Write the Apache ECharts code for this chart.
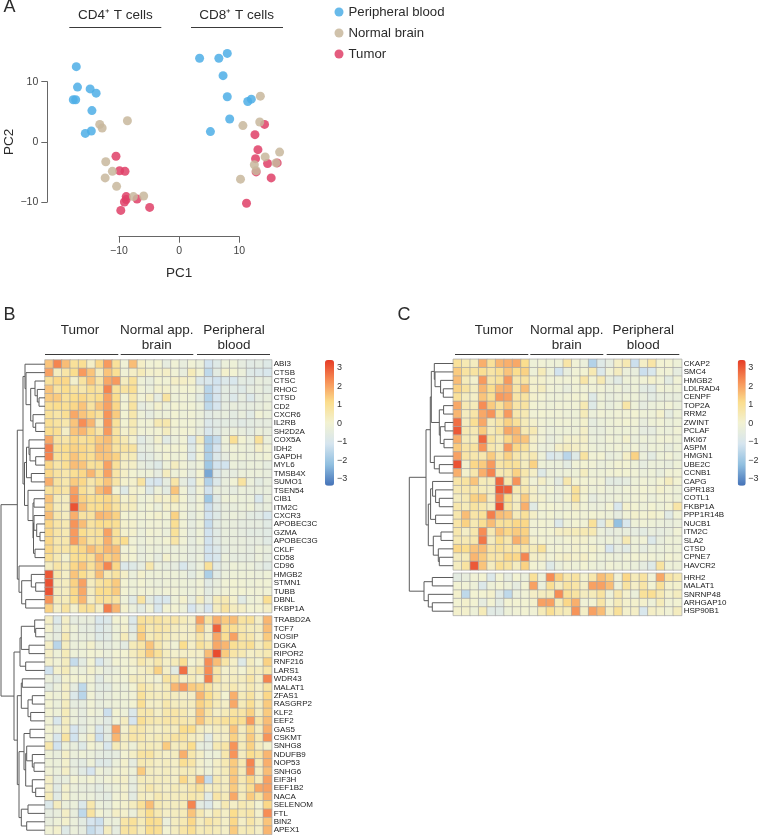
<!DOCTYPE html>
<html>
<head>
<meta charset="utf-8">
<title>T cell PCA and heatmaps</title>
<script src="https://cdn.jsdelivr.net/npm/echarts@6/dist/echarts.min.js"></script>
<style>
  html, body { margin: 0; padding: 0; background: #fff; }
  #chart { width: 759px; height: 835px; }
</style>
</head>
<body>
<div id="chart"></div>
<script>
// panel A: PC1, PC2
const bloodPoints = [
  [-17.1,12.5],[-16.9,9.1],[-14.8,8.8],[-13.8,8.1],[-17.6,7.0],[-17.2,7.0],[-14.5,5.2],[-14.6,1.8],[-15.6,1.4],
  [3.4,13.9],[6.6,13.9],[8.0,14.7],[7.3,11.0],[8.0,7.5],[11.4,6.7],[12.0,7.1],[8.4,3.8],[5.2,1.7]
];
const brainPoints = [
  [-13.2,2.9],[-12.8,2.3],[-8.6,3.5],[-12.2,-3.3],[-11.1,-4.9],[-12.3,-6.0],[-10.4,-7.4],[-7.6,-9.1],[-5.9,-9.0],
  [13.5,7.6],[10.6,2.7],[13.4,3.3],[16.7,-1.7],[14.3,-2.5],[12.5,-3.8],[16.1,-3.5],[12.8,-4.8],[10.2,-6.2]
];
const tumorPoints = [
  [-10.5,-2.4],[-9.9,-4.8],[-9.0,-4.9],[-8.8,-9.1],[-8.8,-9.6],[-9.1,-10.0],[-7.0,-9.5],[-9.7,-11.4],[-4.9,-10.9],
  [14.2,2.9],[12.6,1.2],[13.1,-1.3],[12.7,-2.8],[14.7,-3.6],[16.3,-3.5],[12.8,-5.0],[15.3,-6.0],[11.2,-10.2]
];

const samples = ['T1','T2','T3','T4','T5','T6','T7','T8','T9','N1','N2','N3','N4','N5','N6','N7','N8','N9','P1','P2','P3','P4','P5','P6','P7','P8','P9'];

// panel B, upper block
const bTopGenes = ['ABI3','CTSB','CTSC','RHOC','CTSD','CD2','CXCR6','IL2RB','SH2D2A','COX5A','IDH2','GAPDH','MYL6','TMSB4X','SUMO1','TSEN54','CIB1','ITM2C','CXCR3','APOBEC3C','GZMA','APOBEC3G','CKLF','CD58','CD96','HMGB2','STMN1','TUBB','DBNL','FKBP1A'];
const bTopValues = [
  [1.5,2.4,1.6,0.9,1.0,0.2,1.2,2.1,0.9, -0.1,1.6,0.2,-0.1,0,-0.5,-0.1,-0.4,-0.1, -0.3,-1.2,-0.8,-0.3,-0.2,-0.5,-0.7,-0.6,-0.8],
  [2.0,0.3,0.7,1.1,2.1,1.5,0.3,1.5,1.0, -0.1,0.2,0.4,0.1,0.1,0.2,-0.1,-0.4,0.4, 0,-1.5,-0.6,0.1,0,-0.3,-0.8,-0.9,-1.0],
  [0.9,1.2,1.2,0.1,0.8,1.5,0.7,1.9,2.1, 0.3,0.9,-0.2,-0.4,0,-0.1,0.2,0.2,0.1, -0.9,-1.0,-1.2,-0.9,-1.0,-0.6,-0.7,-0.4,-0.5],
  [1.5,0.8,1.1,0.8,0.6,1.0,0.8,2.4,0.9, 0.8,1.0,-0.1,-0.3,0.1,0.1,-0.1,0,0, -0.3,-1.6,-1.1,-0.6,-0.7,-0.8,-0.5,-0.4,-0.6],
  [1.4,1.4,0.9,1.1,1.2,0.9,1.1,2.0,1.1, -0.1,0.6,-0.1,0.2,-0.5,0.8,-0.2,-0.1,-0.2, -0.6,-1.7,-1.1,-0.6,-0.9,-0.5,-0.9,-0.5,-0.4],
  [1.0,1.1,1.0,1.2,1.5,0.8,1.5,2.0,1.2, 0,0.8,-0.5,-0.3,0.1,-0.2,0,-0.1,-0.1, -0.3,-1.5,-1.1,-0.5,-0.4,-0.5,-0.5,-0.4,-0.3],
  [0.9,0.7,1.0,1.9,1.5,1.2,0.9,2.2,1.4, 0,0.6,-0.2,-0.5,-0.2,-0.2,0,-0.2,-0.1, -0.3,-0.7,-0.5,-0.4,-0.6,-0.4,-0.7,-0.1,-0.3],
  [1.0,0.8,0.6,1.5,2.3,1.7,0.3,2.2,0.9, 0,0.5,-0.1,-0.1,0.5,0.6,0,-0.1,-0.1, -0.3,-0.9,-0.7,-0.6,-0.6,-0.7,-0.6,-0.5,-0.5],
  [1.1,1.0,0.2,1.5,1.7,1.2,0.7,2.1,0.8, 0.1,0.4,-0.1,-0.1,0,0.3,-0.1,0,-0.1, -0.4,-1.0,-0.7,-0.4,-0.3,-0.4,-0.6,-0.3,-0.4],
  [1.9,0.8,0.7,1.2,0.9,1.1,1.4,1.6,0.9, 0.5,0.1,-0.7,-0.4,0.1,-0.7,-0.3,-0.1,-1.0, 0.3,-1.8,-1.4,-0.2,1.0,0,-0.3,0.9,-0.3],
  [2.5,1.0,1.1,1.3,1.2,1.0,1.6,1.5,0.8, 0.8,0.8,-0.5,-0.4,-0.1,0,0,0,-0.8, 0,-1.8,-1.1,-0.3,-0.1,-0.2,-0.3,0.2,-0.1],
  [2.4,0.9,1.0,1.5,1.2,1.0,1.5,1.5,1.3, 0.4,0.4,-0.7,-0.6,-0.3,0,-0.2,-0.1,-0.9, 0,-1.8,-0.9,-0.5,-0.2,-0.2,-0.3,-0.2,-0.1],
  [1.2,0.7,1.0,1.6,1.5,0.9,1.0,2.0,0.9, 0.2,0.2,-0.4,-0.6,-0.8,-0.2,0.3,-0.1,-0.4, -0.2,-2.0,-1.2,-1.2,-0.3,-0.4,-0.3,-0.3,-0.5],
  [1.2,0.8,0.6,1.0,1.2,1.7,1.0,2.0,0.7, 0.2,0,-0.2,-0.2,-0.5,0.3,-0.2,-0.1,-0.5, 0,-2.6,-0.9,-0.5,-0.5,-0.3,-0.3,-0.3,-0.4],
  [1.8,0.8,0.6,1.4,1.2,0.6,1.0,1.5,0.7, 0.1,0.1,0.8,-1.0,-1.1,-0.5,0.7,-0.5,-0.9, 0.1,-1.7,-0.9,-0.4,-0.1,0.8,-0.3,-0.6,-0.4],
  [0.9,0.9,0.7,2.0,1.0,0.6,1.6,2.0,0, -0.8,0.1,0,-0.8,-0.2,-0.6,1.5,-0.1,-0.7, -0.1,-1.2,-0.4,-0.4,-0.5,-0.3,-0.4,-0.4,-0.4],
  [1.5,0.4,0.3,2.2,1.3,1.0,1.1,1.2,0.8, 0.1,0.3,-0.2,-0.1,0.2,0.1,0.7,0,-0.5, -0.1,-2.0,-0.7,-0.2,-0.2,-0.3,-0.3,-1.0,-0.4],
  [1.3,0.4,0.3,3.1,1.6,1.0,1.1,1.3,0.8, 0.3,0.3,-0.2,0,-0.3,0.1,0.1,-0.1,-0.4, -0.1,-1.3,-0.7,-0.4,-0.4,-0.3,-0.2,-0.5,-0.4],
  [1.6,0.6,0.3,1.8,0.8,0.8,1.7,1.6,1.3, 0,0,-0.1,0,0.1,-0.1,1.3,-0.1,-0.5, -0.2,-1.2,-0.8,-0.4,-0.3,-0.4,-0.6,-0.7,-1.0],
  [1.2,0.7,0.5,2.2,1.6,0.8,1.1,1.1,1.0, 0.1,0.1,-0.2,-0.1,-0.1,-0.2,1.0,-0.1,-0.5, -0.2,-1.4,-0.6,-0.4,-0.4,-0.5,-0.5,-0.5,-0.7],
  [1.2,0.7,0.5,2.1,1.1,0.8,0.9,2.0,0.9, 0.1,0.1,-0.3,0,-0.1,-0.3,0.9,-0.1,-0.5, -0.2,-1.2,-0.7,-0.4,-0.4,-0.5,-0.6,-0.6,-0.7],
  [1.2,0.6,0.6,2.1,1.4,0.8,0.9,1.8,0.9, 1.1,-0.1,-0.3,-0.1,-0.2,0,0.7,-0.1,-0.5, -0.2,-1.2,-0.7,-0.4,-0.4,-0.4,-0.5,-0.5,-0.7],
  [1.2,0.7,0.7,1.1,1.2,1.6,1.3,1.7,1.6, -0.1,0,-0.4,-0.2,-0.3,-0.3,-0.3,-0.3,-0.5, -0.4,-1.2,-0.9,-0.5,-0.4,-0.4,-0.5,-0.3,-0.4],
  [1.0,0.5,0.1,1.0,1.1,0.9,1.7,1.3,1.5, 0.1,0,-0.4,-0.2,-0.5,0.1,-0.2,-0.3,-0.5, -0.3,-1.2,-1.0,-0.3,-0.5,-0.5,-0.5,-0.3,-0.5],
  [0.3,0.7,0.4,1.2,1.5,0.9,1.5,2.4,1.2, -0.9,-0.8,-0.5,0.6,-0.3,-0.4,-0.5,-1.0,-0.6, -0.3,0.9,-0.7,-0.4,-0.2,-0.3,-0.3,-0.5,-0.7],
  [3.0,0.6,0.2,1.5,1.1,0.6,1.6,0.5,0.8, 0.2,-0.3,0.1,-0.2,-0.2,-0.2,-0.2,-0.3,-0.6, -0.2,-1.8,-0.7,-0.3,-0.2,-0.2,-0.2,-0.3,-0.2],
  [3.1,0.3,0.3,1.3,2.0,0.3,0.8,1.0,1.4, 0,-0.2,0,-0.2,-0.3,-0.2,-0.2,-0.2,-0.3, -0.1,-0.7,-0.4,-0.1,0,-0.1,-0.2,-0.1,-0.1],
  [3.1,0.3,0.3,1.2,1.9,0.3,1.1,1.1,1.4, 0,-0.2,-0.1,-0.1,-0.2,-0.1,-0.1,-0.2,-0.3, -0.1,-0.6,-0.3,-0.1,0,0,-0.1,-0.1,-0.1],
  [2.2,0.4,0.4,1.1,1.7,0.2,0.9,0.9,0.8, -0.2,-0.7,0.8,-0.6,-1.0,-1.0,-0.2,0.1,-0.5, 0.3,-0.5,0.4,0.5,0.1,-0.7,-0.2,-0.1,1.0],
  [1.3,0.2,0.8,0.1,0.9,0.9,0.2,2.5,1.7, 0.1,-0.3,-0.6,-0.1,-1.0,0,0,-0.2,-1.1, -0.5,-1.1,0.3,0.8,0.3,0.2,0,0,0.2]
];

// panel B, lower block
const bBottomGenes = ['TRABD2A','TCF7','NOSIP','DGKA','RIPOR2','RNF216','LARS1','WDR43','MALAT1','ZFAS1','RASGRP2','KLF2','EEF2','GAS5','CSKMT','SNHG8','NDUFB9','NOP53','SNHG6','EIF3H','EEF1B2','NACA','SELENOM','FTL','BIN2','APEX1'];
const bBottomValues = [
  [0.2,-0.9,0.2,-0.5,-0.4,-0.4,-1.0,-0.9,0, 0,-0.9,0.9,0.8,0.8,0.6,0.7,0.4,0.2, 2.0,0.8,1.8,1.4,1.6,0.8,0.9,0.2,1.7],
  [0.1,-0.6,0.2,-0.2,-0.5,-0.5,-0.9,-0.7,-0.2, 0.1,-0.7,1.2,0.5,0.7,0.6,0.3,0.2,0.2, 1.4,0.2,2.9,1.0,1.0,0.6,0.4,0.3,1.6],
  [-0.3,-0.5,0.5,-0.3,-0.4,-0.4,-0.8,-0.7,-0.2, 0.4,-0.4,1.4,0.4,0.6,0.4,0.2,0.2,0.2, 0.7,0.2,1.9,1.0,2.0,0.7,0.6,0.2,1.4],
  [0.2,-1.6,0.3,-0.3,-0.2,0.1,-0.4,-0.5,-0.3, -0.6,0.4,0.7,1.5,0.6,0.2,-0.1,1.1,0.2, 0.9,0.6,1.9,1.7,1.0,0.8,1.0,0.3,0.9],
  [0.2,-0.2,0.4,-0.2,-0.2,0,-0.1,-0.3,0, 0,0.3,0.7,1.4,0.9,0.3,0.1,0.2,0.2, 0.2,1.6,3.2,1.4,0.7,0.5,0.2,0.3,0.5],
  [0.1,-0.1,0.3,-1.4,-0.6,0,-1.0,-0.5,0, -0.1,0.1,0.6,0.3,0.6,0.2,0.4,1.0,0, 0.2,2.3,1.6,0.7,0.2,-0.8,0.3,0,1.3],
  [-1.2,0.1,0.4,-0.2,-0.3,0.1,-0.2,-0.5,-0.3, 0,0,0.2,0.4,1.3,0.2,-0.6,2.7,0.3, 0.7,2.3,0.7,0.1,0.2,0,0.4,0.3,0.7],
  [-0.3,-0.6,0.1,0,0,-0.1,-0.7,-0.3,-0.1, -0.1,0.3,0.3,0.1,-0.1,0.8,0.7,0.2,0.4, 0.1,2.5,0.7,0.2,0.3,0.3,0.7,0.2,2.4],
  [-0.6,-0.3,0.2,-0.5,-1.5,-0.2,-0.6,-0.6,-0.2, -0.3,0,0.7,0.4,0.2,0.4,1.7,2.1,1.4, 1.3,0.8,0.3,0.3,0.5,0.2,0.5,0.2,0.8],
  [0,-0.2,0.2,-0.9,-1.6,-0.1,-0.5,-0.4,-0.2, -0.2,-0.1,0.9,0.4,0.3,0.4,0.3,0.2,0.2, 1.7,1.1,0.5,0,1.8,0.4,0.8,0.2,1.2],
  [0,-0.3,0.3,-0.5,-0.5,-0.1,-0.4,-0.3,-0.2, -0.2,0,1.0,0.2,0.2,0.6,0.3,0.3,0.3, 1.3,0.9,0.4,0.2,1.9,0.4,1.0,0.3,1.4],
  [0,-0.2,0.4,-0.3,-0.5,-0.1,-0.3,-1.3,0, -0.2,-0.9,0.6,0.6,0.2,0.6,0.7,0.5,0.2, 1.5,0.7,0.2,0.4,0.8,0.7,1.3,0.3,1.4],
  [-0.1,-1.0,0.3,-0.3,-0.5,-0.3,-0.4,-0.7,-0.1, 0.3,-1.1,1.0,0.6,0.5,0.7,0.7,0.6,0.5, 1.5,0.7,0.7,0.9,1.1,1.0,2.1,0.7,1.6],
  [0,-0.3,0.3,-1.1,-0.6,-0.2,-1.0,-0.6,2.0, 0.1,0.6,0.6,0.3,0.2,0.4,0.3,1.1,1.1, 0.3,0.1,0.3,0.3,1.5,0.3,1.2,0.3,1.8],
  [-0.1,-1.0,0.8,-1.2,-0.3,0.2,-1.3,-0.6,1.7, 0.3,0.7,0.6,0.3,0.4,0.5,0.8,0.8,0.3, 0.2,-0.7,0.2,0.2,1.3,0.4,1.4,0.5,2.2],
  [0.6,-1.2,-0.2,-0.4,-0.8,0,-0.3,-1.0,0.4, 0.2,-0.2,0.4,0.4,0.3,1.4,0.3,0.5,1.1, -0.4,-0.5,0.5,0.7,2.2,0.4,1.3,0.3,0.1],
  [-0.2,-0.4,0.2,-0.3,-0.2,-0.3,-0.5,-0.6,-0.5, 0,0.2,0.8,0.8,0.3,0.2,0.3,1.8,0.6, 0.2,-0.3,-0.2,0.6,2.2,0.3,1.1,0.8,1.7],
  [-0.2,-0.3,0.1,-0.5,-0.6,-0.2,-0.8,-0.8,-0.3, 0.1,-0.5,0.5,0.4,0.2,0.3,0.2,1.0,0.7, 0.1,-0.2,0.2,0.5,1.4,0.5,2.4,0.4,1.8],
  [-0.1,-0.3,0.2,-0.4,-0.7,-1.1,-0.2,-0.4,-0.1, 0.1,-0.2,1.4,0.3,0.2,0.3,0.2,0.4,0.4, 0.1,-0.2,0.2,0.4,1.4,0.4,2.2,0.3,1.6],
  [0.2,-0.5,-0.4,0,-0.2,0,-0.3,-0.1,0.1, 0.2,-0.4,0.4,0.3,0.3,0.3,0.2,1.2,0.4, 1.8,-1.4,0.5,0.3,1.5,0.5,1.2,0.4,2.0],
  [0.2,-0.7,0.1,-0.3,-0.4,-0.4,-0.6,-0.4,-0.2, 0.1,-0.5,0.3,0.6,0.3,0.2,0.4,0.3,0.6, 0.9,0.2,0.4,0.3,1.4,0.4,1.0,1.9,2.0],
  [0.4,-0.7,0.1,-0.3,-0.3,-0.3,-0.5,-0.6,-0.1, 0.1,-0.6,0.3,0.2,0.5,0.3,0.3,0.4,0.6, 0.5,-0.7,0.7,0.4,1.9,0.4,1.4,0.8,1.8],
  [-0.9,0.3,-0.3,-0.3,-0.9,0.6,-0.3,-0.4,0, 0.1,0.3,0.9,1.6,0.5,0.3,0.3,0.4,2.4, -0.6,-0.9,-0.1,0.5,0.2,0.5,0.4,0,1.2],
  [-0.5,-0.4,0.2,-0.4,-1.5,0.8,0,-0.3,0.2, 0.1,-0.3,0.5,1.1,0.5,0.2,0.3,0.4,1.5, 0.5,0.1,0.5,0.2,1.1,0.5,0.7,0.1,2.3],
  [-0.4,-0.2,0.1,-0.3,-0.6,-1.1,-1.3,-0.3,-0.3, 0.7,0.9,0.4,1.1,1.0,-0.3,0.3,0.5,1.2, 0.3,0.7,0.5,0.2,1.2,0.2,0.7,0.3,1.5],
  [-0.1,0.1,-0.8,-0.3,-0.5,-1.4,-1.1,0.3,-0.5, 0.8,0.8,0.3,1.1,1.0,0,0.3,0.7,1.0, 0.4,0.5,0.4,0.2,1.4,0.4,0.5,0.2,1.7]
];

// panel C, upper block
const cTopGenes = ['CKAP2','SMC4','HMGB2','LDLRAD4','CENPF','TOP2A','RRM2','ZWINT','PCLAF','MKI67','ASPM','HMGN1','UBE2C','CCNB1','CAPG','GPR183','COTL1','FKBP1A','PPP1R14B','NUCB1','ITM2C','SLA2','CTSD','CPNE7','HAVCR2'];
const cTopValues = [
  [0.9,0.5,0.3,1.8,0.9,1.7,1.8,1.9,1.1, -0.2,-0.1,-0.2,-0.2,0.7,-0.1,-0.3,-1.7,-0.8, -0.5,0.2,0.5,-1.3,0.2,0.7,0,0,-0.2],
  [1.4,0.8,0.8,1.0,0.7,1.0,1.5,1.1,1.3, -0.2,0.4,-0.2,-1.2,-0.4,-0.1,0,0.5,-0.9, -0.1,0.3,-0.3,-0.4,-1.3,-1.0,-0.1,-0.1,-0.5],
  [1.6,0.4,0.1,2.1,0.7,0.9,2.1,0.6,0.8, 0.1,0.1,-0.1,-0.1,-0.1,0,0.7,0,0.5, -0.4,-0.7,-0.2,-0.2,-0.1,0.1,-0.1,-0.6,-0.1],
  [1.3,0.8,0.3,1.7,1.1,1.7,1.8,0.7,1.6, 0.1,0.3,-0.1,-0.2,-0.4,-0.1,-0.1,-0.1,-0.1, -0.3,-0.2,-0.4,-0.2,-0.6,-0.7,-0.1,-0.2,-0.2],
  [0.9,0.3,0.2,1.5,1.0,2.1,2.0,0.7,0.8, 0.1,0,-0.2,-0.2,-0.1,0,0,-0.8,-0.2, -0.4,-0.3,-0.2,-0.2,-0.4,-0.6,-0.4,-0.4,-0.4],
  [1.9,0.5,0.4,2.3,1.4,0.9,1.5,0.7,0.8, 0,-0.1,-0.2,-0.1,-0.1,-0.1,0.5,-0.8,-0.2, -0.4,-0.2,0.7,-0.2,-0.5,-0.3,-0.2,-0.1,-0.3],
  [1.7,0.3,0.7,1.9,2.2,0.9,2.1,0.6,0.5, -0.1,0,-0.1,-0.1,-0.2,-0.2,0.4,-0.3,-0.1, -0.2,-0.1,-0.1,0,-0.2,-0.2,0.1,-0.5,-0.2],
  [2.7,0.3,1.0,1.9,0.4,0.7,1.3,0.9,0.4, 0.1,-0.1,-0.2,-0.1,-0.1,-0.2,0.1,-0.5,-0.3, -0.2,-0.1,0,-0.1,-0.4,-0.2,-0.1,-0.3,-0.2],
  [3.0,0.5,0.5,1.4,0.4,0.8,1.9,1.7,0.5, 0.5,-0.1,-0.3,-0.2,-0.2,-0.2,0.2,-0.4,-0.4, -0.2,-0.2,-0.2,-0.2,-0.5,-0.5,-0.2,-0.3,-0.1],
  [1.8,0.4,0.4,2.8,0.8,0.4,1.2,1.6,1.5, 0.2,-0.1,-0.4,-0.2,0.1,0.1,0.2,-0.3,-0.3, -0.1,-0.2,0.1,-0.3,-0.2,-0.3,-0.1,-0.1,-0.2],
  [1.4,0.7,0.8,2.2,0.6,0.4,2.1,1.2,0.9, 0.1,-0.3,-0.3,0.2,0.3,0.2,0.1,-0.2,-0.3, -0.2,-0.1,-0.2,-0.1,-0.4,-0.2,-0.2,-0.4,-0.2],
  [2.0,0.7,0.6,0.6,1.4,0.6,1.3,0.6,0.4, 0.5,-0.2,-1.0,-0.8,-1.6,-0.8,0.8,-0.1,0, -0.4,-0.3,0.2,1.3,-0.3,-0.6,-0.2,-0.1,-0.3],
  [3.1,0.1,1.2,1.4,2.1,0.7,0.9,0.9,0.3, 1.3,-0.2,-0.3,-0.3,-0.6,-0.1,0,-0.1,-0.3, -0.2,0,0,-0.2,-0.5,-0.3,-0.3,-0.4,-0.2],
  [1.8,0.1,0.6,1.8,2.4,0.5,0.6,1.3,0.6, 0.2,-0.8,-0.3,-0.3,-0.2,-0.2,0.3,-0.2,-0.2, -0.1,0,0,-0.1,-0.3,-0.2,-0.4,-0.1,-0.1],
  [0.7,0.8,1.5,0.4,0.4,2.8,0.6,2.2,0.4, -0.1,0.2,-0.2,-0.6,0.6,0,0,-0.1,-0.1, -0.6,-0.6,-0.5,-0.2,-0.1,-0.2,0,0.3,0],
  [0.5,0.6,0.7,0.4,0.3,3.0,2.9,0.5,0.6, 0.2,-0.2,0,-0.3,0,0.9,0.1,-0.2,-0.1, -0.3,-0.3,-0.1,-0.1,0,-0.1,0.1,-0.1,-0.2],
  [0.3,0.5,1.3,1.4,0.3,2.5,1.1,0.3,1.4, 0.2,0.1,-0.2,-0.3,0.1,0.9,0,-0.5,-0.3, -0.3,-0.2,-0.2,-0.1,-0.1,-0.3,-0.1,-0.1,-0.2],
  [0.6,0.4,0.8,0.6,0.3,3.1,0.8,0.3,1.8, -0.7,0,0,-0.1,-0.2,0.2,-0.1,-0.3,-0.3, 0,-1.0,0.1,0,-0.2,0,-0.2,0,0.7],
  [0.6,1.6,0.7,0.9,2.5,1.6,1.5,0.4,0.9, 0.2,-0.1,0,-0.2,0,0,-0.1,0,-0.1, -0.2,-0.5,-0.1,0.1,0,0.1,0,-0.7,-0.1],
  [0.7,1.3,0.5,1.0,1.6,0.9,0.9,1.2,1.2, -0.1,0,-0.1,-0.9,-0.2,0,-0.1,0.9,-0.8, 0.3,-2.2,-1.0,-0.2,-0.1,-0.2,-0.3,-0.4,-0.3],
  [0.6,0.2,0.6,2.3,0.5,1.5,1.2,1.4,1.3, -0.1,0,0,0.2,0.3,0.4,0.5,0.5,-0.3, -0.5,-0.4,-0.4,-0.5,-0.6,-0.4,-0.5,-0.4,-0.1],
  [0.5,0.5,0.6,2.6,0.3,1.1,0.6,1.8,1.4, 0.1,0,-0.1,-0.2,0,0.1,0.1,-0.1,-0.3, -0.2,-0.4,0.5,-0.2,-0.1,-0.9,-0.4,-0.2,-0.2],
  [1.2,1.1,1.5,1.6,0.7,0.9,0.7,0.7,0.7, 0.4,0.9,-0.1,0,-0.1,0.1,0,0.1,-0.1, -1.1,-0.5,-0.7,-0.2,-0.5,-0.3,-0.3,-0.2,-0.2],
  [0.3,0.4,1.7,1.4,0.7,0.7,1.2,1.2,2.4, 0.2,0.2,-0.1,0.1,0.2,0.1,0.2,0,-0.2, -0.2,-0.3,-0.1,0,-0.1,-0.1,-0.2,0,-0.1],
  [0.3,0.8,3.0,1.5,0.3,1.0,0.8,0.3,1.3, 0,-0.1,-0.8,-0.3,-0.1,-0.2,0,-0.2,-0.3, -0.1,-0.2,-0.2,-0.3,-0.5,-0.8,0.8,-0.2,-0.2]
];

// panel C, lower block
const cBottomGenes = ['HRH2','MALAT1','SNRNP48','ARHGAP10','HSP90B1'];
const cBottomValues = [
  [-0.6,-0.4,-0.1,0,-0.9,0,-0.5,0,-0.3, 0.9,-0.2,2.3,1.3,0.6,0.8,0.1,0.6,1.6, 1.3,-0.1,1.2,0.4,0.8,-0.1,1.9,0.7,0.5],
  [0,-0.1,-0.2,-0.9,-0.2,0,-0.2,-0.5,0, 2.0,-0.3,1.0,0.3,0.8,0.7,0.2,2.0,2.0, 1.6,-0.2,0.8,0.2,0.7,0,0.9,0.1,0.1],
  [0.1,-1.5,0,0,0.1,-0.7,-1.5,-0.3,-0.1, 0.2,0.3,0.4,2.3,0.9,0.8,0.3,0.4,0.8, -0.2,0.6,0.1,-0.3,0.9,1.0,0.5,0.1,0.3],
  [0,0.1,0,-0.5,0,-0.6,0,0,0, 0.1,2.0,2.0,0.4,1.2,1.8,-0.1,0,0.7, 0,0.4,0.1,0.1,0.1,-0.2,0.4,-0.1,0],
  [0.1,0.1,-0.2,0.4,-0.7,-0.7,-0.2,-0.1,0, -0.1,0.4,1.0,0.5,0.4,2.2,0.2,2.0,1.6, 0.2,0.9,0.1,0.2,-1.0,0.2,0.1,-0.1,0.3]
];

// row dendrograms as [height, upper, lower], leaves are gene names
const bTree = [44,
  [27.7,
    [22,
      [20,'ABI3',[19,'CTSB',[14.3,[10,'CTSC',[7.7,'RHOC',[6,'CTSD','CD2']]],[12,'CXCR6',[9.3,'IL2RB','SH2D2A']]]]],
      [20.5,
        [18.5,[16,'COX5A',[15,'IDH2',[9.3,'GAPDH','MYL6']]],[13.7,'TMSB4X','SUMO1']],
        [17,'TSEN54',[12,[11,'CIB1','ITM2C'],[11.5,[11,'CXCR3',[8.3,'APOBEC3C',[5,'GZMA','APOBEC3G']]],[10,'CKLF','CD58']]]]
      ]
    ],
    [26,'CD96',[23.3,[13.7,'HMGB2',[9.3,'STMN1','TUBB']],[19.3,'DBNL','FKBP1A']]]
  ],
  [31,
    [25,[23.7,[10.3,'TRABD2A',[9.3,'TCF7','NOSIP']],[16,'DGKA','RIPOR2']],[19.3,'RNF216','LARS1']],
    [27.7,
      [23.7,
        [22.7,'WDR43','MALAT1'],
        [17,[12.7,'ZFAS1','RASGRP2'],[14.3,'KLF2','EEF2']]
      ],
      [26,
        [21,[15,'GAS5','CSKMT'],[19.3,[18.3,'SNHG8',[12.7,'NDUFB9',[11,'NOP53','SNHG6']]],[12.7,'EIF3H',[9.3,'EEF1B2','NACA']]]],
        [23.7,[17,'SELENOM','FTL'],[18.3,'BIN2','APEX1']]
      ]
    ]
  ]
];
const cTree = [44,
  [27.3,
    [23,
      [22,
        [19,'CKAP2',[18.3,'SMC4',[12.7,'HMGB2',[10,'LDLRAD4','CENPF']]]],
        [14,[9.7,'TOP2A','RRM2'],[13,[8.3,'ZWINT','PCLAF'],[9.3,'MKI67','ASPM']]]
      ],
      [19,'HMGN1',[14,'UBE2C','CCNB1']]
    ],
    [25,
      [22.7,[20.7,'CAPG',[17.7,'GPR183',[14,'COTL1','FKBP1A']]],[17.7,'PPP1R14B','NUCB1']],
      [20,[12.3,'ITM2C','SLA2'],[15,'CTSD',[14,'CPNE7','HAVCR2']]]
    ]
  ],
  [29.3,[21,'HRH2','MALAT1'],[25,'SNRNP48',[21,'ARHGAP10','HSP90B1']]]
];

const colorStops = ['#4472b8','#90bfe0','#d6e5ef','#f2f2d2','#fbdd8c','#f78f56','#e63c26'];
const fontFamily = '"Liberation Sans", Arial, sans-serif';

const toCells = rows => rows.flatMap((row, r) => row.map((v, c) => [c, r, v]));

// one polyline per merge, y is the row number with a small gap between the blocks
function treeSegments(tree, topGenes, bottomGenes, gap) {
  const segments = [];
  const walk = node => {
    if (typeof node === 'string') {
      const i = topGenes.indexOf(node);
      return { h: 0, y: i >= 0 ? i : topGenes.length + gap + bottomGenes.indexOf(node) };
    }
    const a = walk(node[1]);
    const b = walk(node[2]);
    segments.push({ coords: [[a.h, a.y], [node[0], a.y], [node[0], b.y], [b.h, b.y]] });
    return { h: node[0], y: (a.y + b.y) / 2 };
  };
  walk(tree);
  return segments;
}

function text(str, x, y, size) {
  return {
    type: 'text', x: x, y: y, silent: true,
    style: { text: str, fontSize: size, fontFamily: fontFamily, fill: '#2b2b2b', align: 'center', verticalAlign: 'middle' }
  };
}
function rule(x1, x2, y) {
  return { type: 'line', silent: true, shape: { x1: x1, y1: y, x2: x2, y2: y }, style: { stroke: '#3a3a3a', lineWidth: 1 } };
}

const graphicItems = [
  text('A', 9.5, 7, 18), text('B', 9.5, 315, 18), text('C', 404, 315, 18),
  text('CD4\u207a T cells', 115.3, 15.7, 13.5), text('CD8\u207a T cells', 236.7, 15.7, 13.5),
  rule(69.3, 161.3, 27.5), rule(191, 283, 27.5),
  text('Tumor', 80, 330, 13.5), text('Normal app.', 156.7, 330, 13.5), text('brain', 156.7, 345.7, 13.5),
  text('Peripheral', 234, 330, 13.5), text('blood', 234, 345.7, 13.5),
  rule(45, 118.3, 354.5), rule(120.7, 193.3, 354.5), rule(197, 270, 354.5),
  text('Tumor', 494, 330, 13.5), text('Normal app.', 566.7, 330, 13.5), text('brain', 566.7, 345.7, 13.5),
  text('Peripheral', 643.3, 330, 13.5), text('blood', 643.3, 345.7, 13.5),
  rule(455, 528.3, 354.5), rule(530.3, 603.3, 354.5), rule(606.7, 679.3, 354.5)
];

const scatterAxis = {
  type: 'value', min: -10, max: 10, interval: 10, splitLine: { show: false },
  axisLine: { show: true, onZero: false, lineStyle: { color: '#666', width: 1 } },
  axisTick: { show: true, length: 6, lineStyle: { color: '#666', width: 1 } },
  axisLabel: { fontSize: 10.5, fontFamily: fontFamily, color: '#444', margin: 9, formatter: v => String(v).replace('-', '\u2212') },
  nameLocation: 'middle', nameTextStyle: { fontSize: 13.5, fontFamily: fontFamily, color: '#2b2b2b' }
};

const grids = [
  { left: 119, top: 81.7, width: 120.3, height: 120.3 },
  { left: 45, top: 360, width: 226.7, height: 252.6 },
  { left: 45, top: 616, width: 226.7, height: 218.4 },
  { left: 453.3, top: 359.3, width: 228.4, height: 210.6 },
  { left: 453.3, top: 573.3, width: 228.4, height: 42.1 },
  { left: 0, top: 360, width: 45, height: 474.4 },
  { left: 408.3, top: 359.3, width: 45, height: 256.1 },
  { left: 333, top: 349.15, width: 1, height: 148.4 },
  { left: 745, top: 349.15, width: 1, height: 148.4 }
];

const heatX = gridIndex => ({ type: 'category', gridIndex: gridIndex, data: samples, show: false });
const heatY = (gridIndex, genes) => ({
  type: 'category', gridIndex: gridIndex, data: genes, inverse: true, position: 'right',
  axisLine: { show: false }, axisTick: { show: false }, splitLine: { show: false },
  axisLabel: { interval: 0, fontSize: 8, fontFamily: fontFamily, color: '#222', margin: 2 }
});
const treeX = gridIndex => ({ type: 'value', gridIndex: gridIndex, min: 0, max: 45, inverse: true, show: false });
const treeY = (gridIndex, max) => ({ type: 'value', gridIndex: gridIndex, min: -0.5, max: max, inverse: true, show: false });
const barX = gridIndex => ({ type: 'value', gridIndex: gridIndex, show: false });
const barY = gridIndex => ({
  type: 'value', gridIndex: gridIndex, position: 'right', min: -4, max: 4, interval: 1,
  axisLine: { show: false }, axisTick: { show: false }, splitLine: { show: false },
  axisLabel: { fontSize: 9, fontFamily: fontFamily, color: '#333', margin: 3,
    formatter: v => Math.abs(v) === 4 ? '' : String(v).replace('-', '\u2212') }
});

const pointSeries = (name, data, color, z) => ({
  name: name, type: 'scatter', data: data, symbolSize: 9, clip: false, z: z,
  itemStyle: { color: color, opacity: 0.85 }
});
const heatSeries = (gridIndex, rows) => ({
  type: 'heatmap', xAxisIndex: gridIndex, yAxisIndex: gridIndex, data: toCells(rows),
  itemStyle: { borderColor: '#a6a6a6', borderWidth: 0.7 }
});
const treeSeries = (gridIndex, data) => ({
  type: 'lines', coordinateSystem: 'cartesian2d', polyline: true, xAxisIndex: gridIndex, yAxisIndex: gridIndex,
  data: data, symbol: 'none', silent: true, lineStyle: { color: '#5c5c5c', width: 1, opacity: 1 }
});
const colorBar = (seriesIndex, left, width) => ({
  type: 'continuous', seriesIndex: seriesIndex, min: -3.4, max: 3.4, calculable: false, hoverLink: false,
  left: left, top: 360, itemWidth: width, itemHeight: 125.7, padding: 0, text: null,
  inRange: { color: colorStops }
});

const option = {
  animation: false,
  backgroundColor: '#fff',
  textStyle: { fontFamily: fontFamily },
  graphic: graphicItems,
  legend: {
    data: ['Peripheral blood', 'Normal brain', 'Tumor'],
    orient: 'vertical', left: 334.5, top: 5.5, padding: 0, itemWidth: 9, itemHeight: 9, itemGap: 8, icon: 'circle',
    textStyle: { fontSize: 13.2, fontFamily: fontFamily, color: '#2b2b2b' }
  },
  grid: grids,
  xAxis: [
    Object.assign({}, scatterAxis, { gridIndex: 0, name: 'PC1', nameGap: 30, offset: 34.7 }),
    heatX(1), heatX(2), heatX(3), heatX(4),
    treeX(5), treeX(6), barX(7), barX(8)
  ],
  yAxis: [
    Object.assign({}, scatterAxis, { gridIndex: 0, name: 'PC2', nameGap: 21, offset: 71.7 }),
    heatY(1, bTopGenes), heatY(2, bBottomGenes), heatY(3, cTopGenes), heatY(4, cBottomGenes),
    treeY(5, 55.92), treeY(6, 29.9), barY(7), barY(8)
  ],
  visualMap: [colorBar([3, 4], 325, 9), colorBar([5, 6], 737.7, 8)],
  series: [
    pointSeries('Peripheral blood', bloodPoints, '#4eaee6', 2),
    pointSeries('Tumor', tumorPoints, '#df4067', 2),
    pointSeries('Normal brain', brainPoints, '#c8b79c', 3),
    heatSeries(1, bTopValues),
    heatSeries(2, bBottomValues),
    heatSeries(3, cTopValues),
    heatSeries(4, cBottomValues),
    treeSeries(5, treeSegments(bTree, bTopGenes, bBottomGenes, 0.42)),
    treeSeries(6, treeSegments(cTree, cTopGenes, cBottomGenes, 0.4))
  ]
};

const chart = echarts.init(document.getElementById('chart'), null, { renderer: 'canvas' });
chart.setOption(option);
</script>
</body>
</html>
